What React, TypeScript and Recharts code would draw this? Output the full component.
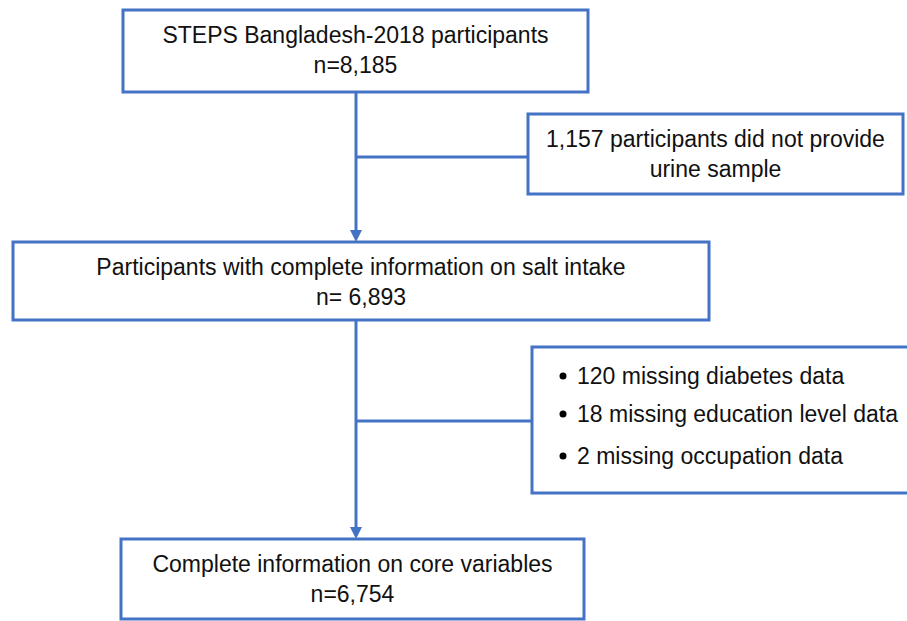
import React from "react";
import {
  ComposedChart,
  XAxis,
  YAxis,
  ReferenceArea,
  ReferenceLine,
  ReferenceDot,
} from "recharts";

const BLUE = "#4472C4";
const FONT = "'Liberation Sans', Arial, sans-serif";

// flow boxes: text lines
const boxText = [
  ["STEPS Bangladesh-2018 participants", "n=8,185"],
  ["1,157 participants did not provide", "urine sample"],
  ["Participants with complete information on salt intake", "n= 6,893"],
  ["120 missing diabetes data", "18 missing education level data", "2 missing occupation data"],
  ["Complete information on core variables", "n=6,754"],
];
const boxBullets = [false, false, false, true, false];

// box extents in diagram units [x1, x2], [y1, y2]
const boxX = [
  [123, 588],
  [528, 903],
  [13, 709],
  [532, 912],
  [121, 584],
];
const boxY = [
  [10, 92],
  [114, 194],
  [242, 320],
  [347, 493],
  [539, 619],
];

// main spine and side branches
const spineX = 356;
const spine = [
  [92, 242],
  [320, 539],
];
const branchY = [157, 421];
const branchTo = [528, 532];
const arrowTips = [242, 539];

const renderBoxText = (lines: string[], bullets: boolean) => (props: any) => {
  const vb = props.viewBox || {};
  const { x, y, width } = vb;
  if (bullets) {
    const base = [37, 75, 117];
    return (
      <g>
        {lines.map((t, i) => (
          <g key={i}>
            <circle cx={x + 31} cy={y + base[i] - 8} r={3.5} fill="#000" />
            <text x={x + 45} y={y + base[i]} fontFamily={FONT} fontSize={23} fill="#111">
              {t}
            </text>
          </g>
        ))}
      </g>
    );
  }
  return (
    <g>
      {lines.map((t, i) => (
        <text
          key={i}
          x={x + width / 2}
          y={y + 33 + i * 30}
          textAnchor="middle"
          fontFamily={FONT}
          fontSize={23}
          fill="#111"
        >
          {t}
        </text>
      ))}
    </g>
  );
};

const Arrow = (props: any) => {
  const { cx, cy } = props;
  if (cx == null || cy == null) return null;
  return <path d={`M${cx - 6},${cy - 12} L${cx + 6},${cy - 12} L${cx},${cy} Z`} fill={BLUE} />;
};

export default function App() {
  return (
    <div style={{ position: "absolute", left: 0, top: 0, width: 907, height: 621, overflow: "hidden", background: "#fff" }}>
      <style>{`body{margin:0;overflow:hidden}`}</style>
      <ComposedChart width={907} height={621} data={[]} margin={{ top: 0, right: 0, bottom: 0, left: 0 }}>
        <XAxis type="number" dataKey="x" domain={[0, 907]} hide allowDataOverflow />
        <YAxis type="number" dataKey="y" domain={[0, 621]} reversed hide allowDataOverflow />
        {spine.map(([a, b], i) => (
          <ReferenceLine
            key={`s${i}`}
            segment={[{ x: spineX, y: a }, { x: spineX, y: b - 8 }]}
            stroke={BLUE}
            strokeWidth={3}
            ifOverflow="visible"
          />
        ))}
        {branchY.map((y, i) => (
          <ReferenceLine
            key={`b${i}`}
            segment={[{ x: spineX, y }, { x: branchTo[i], y }]}
            stroke={BLUE}
            strokeWidth={3}
            ifOverflow="visible"
          />
        ))}
        {boxText.map((lines, i) => (
          <ReferenceArea
            key={`box${i}`}
            x1={boxX[i][0]}
            x2={boxX[i][1]}
            y1={boxY[i][0]}
            y2={boxY[i][1]}
            fill="#fff"
            fillOpacity={1}
            stroke={BLUE}
            strokeWidth={3}
            ifOverflow="visible"
            label={renderBoxText(lines, boxBullets[i])}
          />
        ))}
        {arrowTips.map((y, i) => (
          <ReferenceDot key={`a${i}`} x={spineX} y={y} r={6} shape={Arrow} ifOverflow="visible" />
        ))}
      </ComposedChart>
    </div>
  );
}
